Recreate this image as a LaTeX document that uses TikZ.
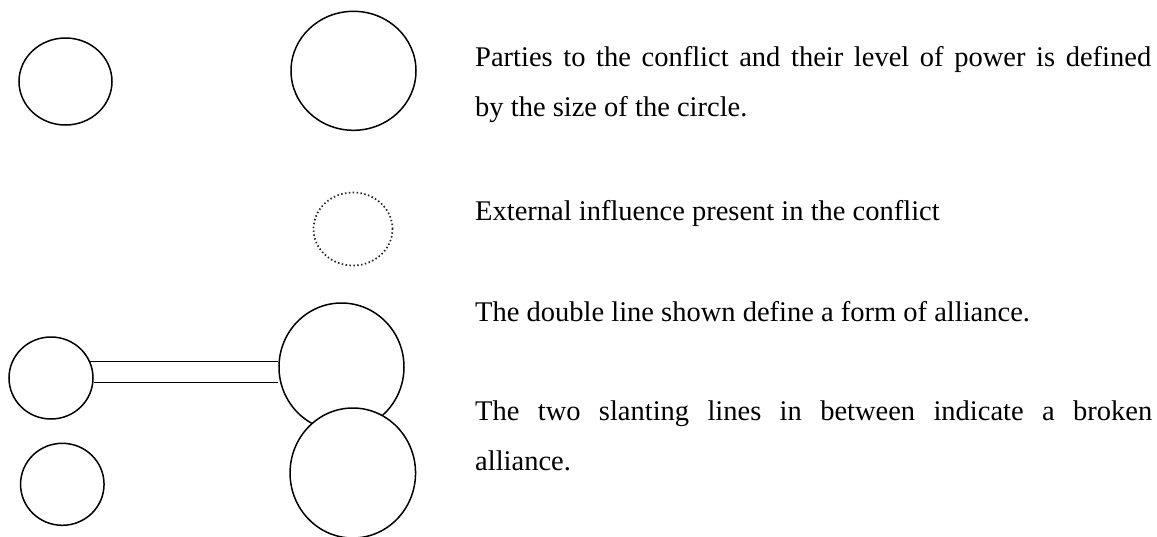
\documentclass[tikz,border=0pt]{standalone}
\usepackage{fontspec}
\setmainfont{Liberation Serif}
\usetikzlibrary{shapes.geometric}
\begin{document}
\begin{tikzpicture}[x=1pt,y=-1pt,
  party/.style={draw=black, line width=1.5pt, ellipse, inner sep=0pt, fill=white},
  extinf/.style={draw=black!85, line width=1.7pt, ellipse, inner sep=0pt, dash pattern=on 1.5pt off 2.4pt},
  legend/.style={anchor=base west, inner sep=0pt, font=\fontsize{28.5}{50}\selectfont},
  link/.style={draw=black, line width=1.3pt}]
\useasboundingbox (0,0) rectangle (1157,536);
% row 1: parties
\node[party, minimum width=93pt, minimum height=87pt] (p1) at (65.5,81.5) {};
\node[party, minimum width=125pt, minimum height=119pt] (p2) at (353.5,70.8) {};
% row 2: external influence
\node[extinf, minimum width=79pt, minimum height=73pt] (ext) at (353,229) {};
% row 3: alliance
\node[party, minimum width=84pt, minimum height=82pt] (al) at (51,378) {};
\node[party, minimum width=125pt, minimum height=128pt] (ar) at (341.5,367) {};
\draw[link] (al.23) -- (al.23 -| ar.west);
\draw[link] (al.-6) -- (al.-6 -| ar.west);
% row 4: broken alliance
\node[party, minimum width=83.5pt, minimum height=82pt] (bl) at (62.3,484.3) {};
\node[party, minimum width=125.5pt, minimum height=130pt] (br) at (352.8,473) {};
% texts
\node[legend] (t1) at (475,66.7) {\makebox[676pt][s]{Parties to the conflict and their level of power is defined}};
\node[legend] (t1b) at (475,116) {by the size of the circle.};
\node[legend] (t2) at (475,220.7) {External influence present in the conflict};
\node[legend] (t3) at (475,321) {The double line shown define a form of alliance.};
\node[legend] (t4) at (475,420.7) {\makebox[677pt][s]{The two slanting lines in between indicate a broken}};
\node[legend] (t4b) at (475,470.7) {alliance.};
\end{tikzpicture}
\end{document}
